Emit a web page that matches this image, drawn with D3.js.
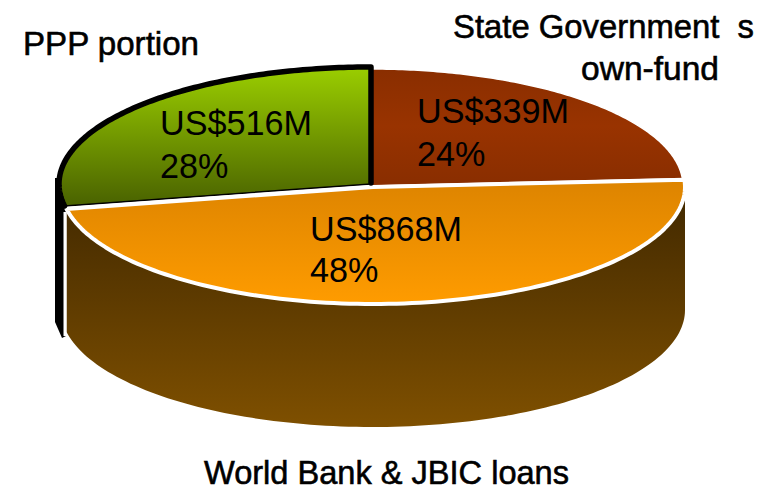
<!DOCTYPE html>
<html><head><meta charset="utf-8">
<script src="https://cdn.jsdelivr.net/npm/d3@7"></script>
<style>html,body{margin:0;padding:0;background:#fff}svg{display:block}
text{font-family:"Liberation Sans",Arial,sans-serif;fill:#000}</style></head>
<body><svg id="c" width="773" height="491"></svg>
<script>
const categories = ["State Government s own-fund","World Bank & JBIC loans","PPP portion"];
const shares = [24,48,28];
const amounts = ["US$339M","US$868M","US$516M"];
const percentLabels = ["24%","48%","28%"];
const sliceTop = ["#8a2e00","#dd8400","#99cc00"];
const sliceBottom = ["#8a2e00","#ff9c00","#486000"];
const wallColors = ["#452b00","#7f5000"];

const cx=371,cy=184,rx=312,ry=117,depth=123;
const svg=d3.select("#c");
const defs=svg.append("defs");
function grad(id,stops,y1,y2){
  const g=defs.append("linearGradient").attr("id",id).attr("gradientUnits","userSpaceOnUse")
    .attr("x1",0).attr("x2",0).attr("y1",y1).attr("y2",y2);
  stops.forEach(s=>g.append("stop").attr("offset",s[0]).attr("stop-color",s[1]));
}
grad("g0",[[0,sliceTop[0]],[.5,"#993300"],[1,sliceBottom[0]]],70,182);
grad("g1",[[0,sliceTop[1]],[1,sliceBottom[1]]],180,305);
grad("g2",[[0,sliceTop[2]],[1,sliceBottom[2]]],70,208);
grad("gw",[[0,wallColors[0]],[1,wallColors[1]]],205,428);

const arcs=d3.pie().sort(null).value(d=>d)(shares);
const sx=d3.scaleLinear().domain([-1,1]).range([-rx,rx]);
const sy=d3.scaleLinear().domain([-1,1]).range([-ry,ry]);
const offsets=[[0,2],[2,3],[0,0]];
const line=d3.line();

function rimPoint(a,off,dz){return [cx+off[0]+sx(Math.sin(a)),cy+off[1]+dz+sy(-Math.cos(a))];}
function anglesBetween(a0,a1){const n=120;return d3.range(n+1).map(i=>a0+(a1-a0)*i/n);}
function sliceEdge(i){return anglesBetween(arcs[i].startAngle,arcs[i].endAngle).map(t=>rimPoint(t,offsets[i],0));}
function slicePath(i){
  const o=offsets[i];
  return line([[cx+o[0],cy+o[1]]].concat(sliceEdge(i)))+"Z";
}

// green slice's wall: black, mostly hidden
svg.append("path").attr("fill","#000")
 .attr("d",line([[55,178],[66,178],[66,336],[62,338],[55,322]])+"Z");

// orange wall: visible front wall
const front=anglesBetween(Math.PI/2,arcs[1].endAngle);
const topEdge=front.map(a=>rimPoint(a,offsets[1],0));
const botEdge=front.map(a=>rimPoint(a,offsets[1],depth)).reverse();
svg.append("path").attr("fill","url(#gw)").attr("d",line(topEdge.concat(botEdge))+"Z");
svg.append("path").attr("fill","none").attr("stroke","#fff").attr("stroke-width",3)
 .attr("d",line([[65,212],[65,336]]));

// top faces
svg.selectAll("path.slice").data([0,2,1]).join("path").attr("class","slice")
 .attr("d",i=>slicePath(i))
 .attr("fill",i=>`url(#g${i})`)
 .attr("stroke",i=>i===2?"#000":"#fff")
 .attr("stroke-width",i=>i===2?1.5:i===1?4:1.5)
 .attr("stroke-linejoin","round");
// heavy black outline on the green slice's rim and right edge
svg.append("path").attr("fill","none").attr("stroke","#000").attr("stroke-width",5.5)
 .attr("stroke-linejoin","round").attr("stroke-linecap","round")
 .attr("d",line(sliceEdge(2).concat([[cx+offsets[2][0],cy+offsets[2][1]-1]])));

// labels
const pos=[[417,123,166],[310,241,282],[160,135,178]];
const valueLabels=svg.append("g").style("font-size","34.2px");
[0,1,2].forEach(i=>{
  valueLabels.append("text").attr("x",pos[i][0]).attr("y",pos[i][1]).text(amounts[i]);
  valueLabels.append("text").attr("x",pos[i][0]).attr("y",pos[i][2]).text(percentLabels[i]);
});
const names=svg.append("g").style("font-size","34px").style("stroke","#000").style("stroke-width","0.6px");
function nameText(x,y,len,t){
  return names.append("text").attr("x",x).attr("y",y).attr("textLength",len)
    .attr("lengthAdjust","spacingAndGlyphs").style("white-space","pre").text(t);
}
nameText(23,55,176,categories[2]);
nameText(453,38,301,"State Government  s");
nameText(581,80,138,"own-fund");
nameText(204,483.5,365,categories[1]);
</script></body></html>
